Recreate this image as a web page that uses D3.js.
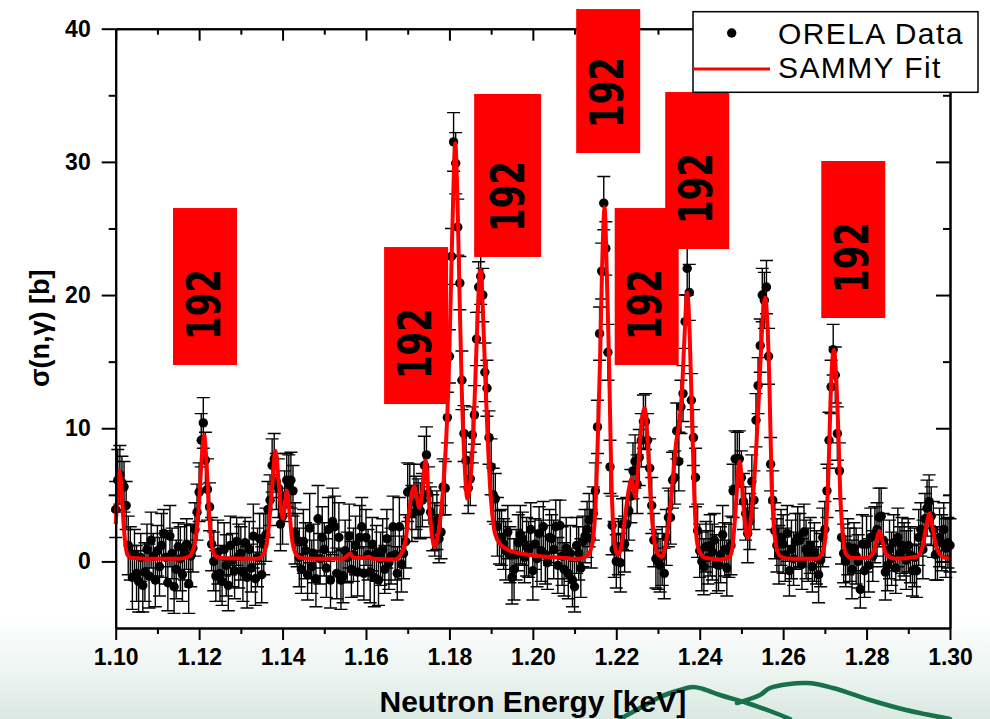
<!DOCTYPE html>
<html>
<head>
<meta charset="utf-8">
<script src="https://cdn.jsdelivr.net/npm/d3@7"></script>
<style>
  html, body { margin: 0; padding: 0; background: #fff; }
  svg { display: block; }
</style>
</head>
<body>
<svg id="chart" width="990" height="719"></svg>
<script>
// ORELA capture cross section, 1.10–1.30 keV (energy in keV, sigma in barn)
const energy = [
  1.1000,1.1005,1.1010,1.1015,1.1020,1.1025,1.1030,1.1035,1.1040,1.1045,1.1050,1.1055,1.1060,1.1065,1.1070,1.1075,1.1080,1.1085,1.1090,1.1095,
  1.1100,1.1105,1.1110,1.1115,1.1120,1.1125,1.1130,1.1135,1.1140,1.1145,1.1150,1.1155,1.1160,1.1165,1.1170,1.1175,1.1180,1.1185,1.1190,1.1195,
  1.1200,1.1205,1.1210,1.1215,1.1220,1.1225,1.1230,1.1235,1.1240,1.1245,1.1250,1.1255,1.1260,1.1265,1.1270,1.1275,1.1280,1.1285,1.1290,1.1295,
  1.1300,1.1305,1.1310,1.1315,1.1320,1.1325,1.1330,1.1335,1.1340,1.1345,1.1350,1.1355,1.1360,1.1365,1.1370,1.1375,1.1380,1.1385,1.1390,1.1395,
  1.1400,1.1405,1.1410,1.1415,1.1420,1.1425,1.1430,1.1435,1.1440,1.1445,1.1450,1.1455,1.1460,1.1465,1.1470,1.1475,1.1480,1.1485,1.1490,1.1495,
  1.1500,1.1505,1.1510,1.1515,1.1520,1.1525,1.1530,1.1535,1.1540,1.1545,1.1550,1.1555,1.1560,1.1565,1.1570,1.1575,1.1580,1.1585,1.1590,1.1595,
  1.1600,1.1605,1.1610,1.1615,1.1620,1.1625,1.1630,1.1635,1.1640,1.1645,1.1650,1.1655,1.1660,1.1665,1.1670,1.1675,1.1680,1.1685,1.1690,1.1695,
  1.1700,1.1705,1.1710,1.1715,1.1720,1.1725,1.1730,1.1735,1.1740,1.1745,1.1750,1.1755,1.1760,1.1765,1.1770,1.1775,1.1780,1.1785,1.1790,1.1795,
  1.1800,1.1805,1.1810,1.1815,1.1820,1.1825,1.1830,1.1835,1.1840,1.1845,1.1850,1.1855,1.1860,1.1865,1.1870,1.1875,1.1880,1.1885,1.1890,1.1895,
  1.1900,1.1905,1.1910,1.1915,1.1920,1.1925,1.1930,1.1935,1.1940,1.1945,1.1950,1.1955,1.1960,1.1965,1.1970,1.1975,1.1980,1.1985,1.1990,1.1995,
  1.2000,1.2005,1.2010,1.2015,1.2020,1.2025,1.2030,1.2035,1.2040,1.2045,1.2050,1.2055,1.2060,1.2065,1.2070,1.2075,1.2080,1.2085,1.2090,1.2095,
  1.2100,1.2105,1.2110,1.2115,1.2120,1.2125,1.2130,1.2135,1.2140,1.2145,1.2150,1.2155,1.2160,1.2165,1.2170,1.2175,1.2180,1.2185,1.2190,1.2195,
  1.2200,1.2205,1.2210,1.2215,1.2220,1.2225,1.2230,1.2235,1.2240,1.2245,1.2250,1.2255,1.2260,1.2265,1.2270,1.2275,1.2280,1.2285,1.2290,1.2295,
  1.2300,1.2305,1.2310,1.2315,1.2320,1.2325,1.2330,1.2335,1.2340,1.2345,1.2350,1.2355,1.2360,1.2365,1.2370,1.2375,1.2380,1.2385,1.2390,1.2395,
  1.2400,1.2405,1.2410,1.2415,1.2420,1.2425,1.2430,1.2435,1.2440,1.2445,1.2450,1.2455,1.2460,1.2465,1.2470,1.2475,1.2480,1.2485,1.2490,1.2495,
  1.2500,1.2505,1.2510,1.2515,1.2520,1.2525,1.2530,1.2535,1.2540,1.2545,1.2550,1.2555,1.2560,1.2565,1.2570,1.2575,1.2580,1.2585,1.2590,1.2595,
  1.2600,1.2605,1.2610,1.2615,1.2620,1.2625,1.2630,1.2635,1.2640,1.2645,1.2650,1.2655,1.2660,1.2665,1.2670,1.2675,1.2680,1.2685,1.2690,1.2695,
  1.2700,1.2705,1.2710,1.2715,1.2720,1.2725,1.2730,1.2735,1.2740,1.2745,1.2750,1.2755,1.2760,1.2765,1.2770,1.2775,1.2780,1.2785,1.2790,1.2795,
  1.2800,1.2805,1.2810,1.2815,1.2820,1.2825,1.2830,1.2835,1.2840,1.2845,1.2850,1.2855,1.2860,1.2865,1.2870,1.2875,1.2880,1.2885,1.2890,1.2895,
  1.2900,1.2905,1.2910,1.2915,1.2920,1.2925,1.2930,1.2935,1.2940,1.2945,1.2950,1.2955,1.2960,1.2965,1.2970,1.2975,1.2980,1.2985,1.2990,1.2995,
  1.3000
];

const sigma = [
  3.9, 6.1, 6.5, 5.9, 5.6, 4.2, 1.2, 0.6,-1.2, 0.5,-0.9,-1.5, 0.3,-1.8,-0.8, 0.9,-1.1, 1.6, 0.4,-1.4,
  0.8,-0.4, 1.2, 2.1, 0.3,-1.6, 1.9, 0.6,-1.9,-0.6, 1.1, 0.2,-1.0, 0.7, 1.3,-1.7, 0.4, 1.0, 2.4, 3.7,
  5.2, 9.1,10.4, 7.6, 5.4, 4.1, 1.3, 0.0,-1.1, 0.7,-0.9,-1.5, 0.9,-0.3,-1.8, 1.2, 0.1,-0.7, 1.5, 0.4,
  0.6,-0.8, 1.4,-1.2, 0.9,-0.5, 1.9,-1.3, 0.3, 1.7,-1.0, 1.3, 2.0, 3.9, 4.6, 7.2, 7.7, 6.0, 5.5, 2.8,
  3.4, 4.9, 6.1, 5.8, 6.1, 5.3, 2.1, 1.6, 0.3,-0.6, 1.5, 0.8,-1.0, 2.5,-0.4, 0.6,-1.3, 3.2, 0.2, 1.8,
  0.9,-0.5, 2.4,-1.4, 3.0, 2.6,-0.9, 1.8,-1.4,-1.1, 0.8, 0.3, 1.9,-0.6, 0.5, 1.2,-0.8, 1.8, 2.6,-0.9,
  1.8, 0.5,-0.8, 1.3,-1.2, 0.6,-1.4, 0.2, 0.9,-0.6, 1.7,-0.1, 0.4, 2.6, 0.5,-0.9, 2.6,-0.2, 0.6, 1.5,
  5.2, 5.3, 3.6, 5.4, 4.4, 4.0, 3.8, 4.6, 7.2, 8.0, 5.1, 3.7, 2.9, 2.4, 3.1, 1.7, 2.2, 5.6, 5.5,10.8,
 15.4,22.9,31.5,29.9,25.1,20.9,13.6, 9.6, 7.6, 5.5, 6.2, 9.5,11.0,16.7,20.6,21.4,20.0,14.2,13.0, 9.3,
  7.1, 5.0, 4.7, 2.6, 1.8, 1.8, 1.3, 0.8, 2.2, 0.5,-1.2,-0.6, 0.5, 1.4, 2.0, 1.7, 0.3, 1.1, 0.9, 2.4,
 -0.7, 1.3, 0.2, 2.1, 0.8, 2.6, 0.5,-0.1, 1.8, 1.7, 0.9, 2.6,-0.3, 2.7, 0.4,-0.6, 1.0,-0.9, 0.6,-1.4,
 -1.9, 1.2, 0.6,-0.5, 1.5, 1.9, 2.4, 3.1, 1.7, 3.6, 5.3,10.1,17.1,21.8,26.9,23.5,15.7, 7.1, 2.7, 0.9,
  0.0, 1.1,-0.1, 2.8, 1.3, 2.8, 3.8, 4.9, 6.8, 7.5, 5.8, 7.8, 9.1,10.5,10.5, 9.1, 7.0, 4.2, 1.6, 0.2,
  0.0,-0.3, 0.4,-0.9, 1.8, 3.3, 3.3, 6.1, 6.3, 9.8, 7.5,11.6,12.6,18.0,22.0,20.2,12.1, 9.3, 6.3, 2.3,
  0.8, 0.0,-0.4, 1.1, 0.3, 1.2, 0.7, 1.6,-0.2,-0.3, 0.5, 2.0, 0.9,-0.5, 0.8, 1.2, 5.3, 7.7, 7.7, 7.7,
  6.3, 4.5, 3.6, 2.1, 3.0, 6.0, 4.6,10.6,13.2,16.2,20.0,19.6,20.6,15.4, 7.3, 4.6, 2.3, 1.2, 0.5, 1.8,
  1.3, 0.5, 2.1,-0.7, 0.9, 0.2, 1.5, 1.8, 1.6,-0.2, 2.2, 0.9, 0.5, 1.2,-0.4, 0.7, 0.3,-1.0, 0.1, 1.8,
  2.4, 5.3, 9.1,13.1,15.9,14.0, 9.6, 6.8, 1.8, 0.6, 0.0, 1.1, 0.5,-0.6, 1.0, 0.4, 0.0,-2.1, 1.3,-0.7,
  1.3,-0.3, 1.8, 0.4, 2.0, 2.4, 3.3, 3.4, 1.6,-0.8,-0.3, 0.9, 0.2, 1.4,-0.5, 1.8, 0.6, 1.2, 0.9, 0.1,
  1.2, 0.5,-0.7, 0.3,-0.7, 1.8, 2.4, 0.9, 3.2, 4.0, 4.5, 3.4, 2.4, 0.5, 0.6, 1.8, 1.4, 2.4, 1.0, 1.4,
  1.2
];

const sigmaErr = [
  2.1,2.3,2.2,2.0,1.9,1.8,2.2,2.0,2.4,1.9,2.1,2.3,1.8,2.0,2.2,1.9,2.4,2.1,1.7,2.0,
  1.9,2.2,2.4,1.8,2.0,2.1,2.3,1.9,2.0,2.2,1.8,2.4,2.0,2.1,1.9,2.2,2.3,1.8,2.0,2.1,
  2.2,2.0,1.9,2.1,2.3,1.8,2.0,2.2,1.9,2.4,2.1,1.8,2.0,2.3,1.9,2.2,2.0,2.1,1.8,2.4,
  2.0,2.2,1.9,2.3,2.1,1.8,2.4,2.0,2.2,1.9,2.1,2.3,2.0,2.1,1.9,2.0,1.9,2.1,2.2,2.0,
  2.1,1.9,2.0,2.2,2.1,1.9,2.3,2.0,2.2,1.8,2.4,2.1,1.9,2.6,2.0,2.2,2.1,2.5,1.9,2.3,
  2.0,2.2,2.4,2.1,2.5,2.3,1.9,2.6,2.2,2.0,2.3,1.9,2.4,2.1,2.0,2.2,1.8,2.4,2.2,2.0,
  2.1,1.9,2.3,2.0,2.2,2.1,1.9,2.0,2.3,1.8,2.2,2.0,2.1,2.3,1.9,2.0,2.2,2.1,1.9,2.0,
  2.2,2.0,2.1,1.9,2.0,2.2,2.1,2.0,2.2,2.1,2.0,1.9,2.1,2.0,2.2,1.8,2.0,2.1,2.0,1.9,
  2.0,2.1,2.2,2.3,2.1,2.0,2.2,2.1,2.0,1.9,2.0,2.1,2.2,2.0,1.9,2.1,2.0,2.2,2.1,2.0,
  2.1,2.0,1.9,2.2,2.0,2.1,1.9,2.2,2.0,2.1,2.0,2.3,1.9,2.1,2.2,2.0,1.9,2.2,2.1,2.0,
  2.2,1.9,2.1,2.0,2.3,1.9,2.2,2.0,2.1,1.8,2.2,2.0,2.1,1.9,2.2,2.0,2.3,1.9,2.1,2.0,
  1.9,2.1,2.0,2.2,1.9,2.0,2.1,2.0,2.2,2.0,2.1,2.0,2.0,2.1,2.0,2.0,2.1,2.0,2.2,2.1,
  2.0,2.1,2.2,1.9,2.1,2.0,2.2,2.0,2.1,2.0,2.2,2.1,2.0,2.0,2.1,2.0,2.2,2.1,2.0,2.2,
  2.1,2.0,2.2,1.9,2.1,2.2,2.0,2.1,2.0,2.1,2.2,2.0,2.1,2.0,2.0,2.1,2.0,2.1,2.2,2.0,
  2.0,2.2,2.1,1.9,2.0,2.3,2.1,2.0,2.2,1.9,2.1,2.2,2.0,2.1,2.0,2.2,2.0,2.1,2.0,2.1,
  2.0,2.1,2.0,2.2,2.1,2.0,2.2,2.0,2.1,2.0,2.0,2.1,2.0,2.1,2.0,2.2,2.1,2.0,2.2,2.1,
  2.2,2.0,2.1,1.9,2.2,2.0,2.1,2.3,2.0,1.9,2.1,2.2,2.0,2.1,1.9,2.2,2.0,2.1,2.0,2.2,
  2.1,2.0,2.1,2.0,1.9,2.1,2.0,2.1,2.0,2.2,1.9,2.1,2.0,2.2,1.9,2.1,2.0,1.4,2.2,2.0,
  2.1,2.0,2.2,1.9,2.1,2.0,2.2,2.1,2.0,2.1,1.9,2.2,2.0,2.1,1.9,2.2,2.0,2.1,2.0,2.2,
  2.0,2.1,1.9,2.2,2.0,2.1,2.0,2.2,1.9,2.1,2.0,2.2,2.1,1.9,2.0,2.2,2.1,2.0,2.2,1.9,
  2.0
];

// SAMMY R-matrix fit, sampled along the energy axis
const fitEnergy = [
  1.1000,1.1004,1.1009,1.1014,1.1019,1.1024,1.1030,1.1040,1.1080,1.1150,1.1175,1.1185,1.1193,1.1200,1.1206,1.1212,1.1218,1.1224,1.1230,1.1238,
  1.1250,1.1340,1.1355,1.1365,1.1373,1.1383,1.1391,1.1397,1.1401,1.1406,1.1410,1.1416,1.1423,1.1432,1.1445,1.1470,1.1545,1.1556,1.1562,1.1570,
  1.1585,1.1600,1.1607,1.1616,1.1670,1.1685,1.1695,1.1702,1.1709,1.1716,1.1722,1.1728,1.1735,1.1743,1.1749,1.1754,1.1759,1.1764,1.1770,1.1778,
  1.1785,1.1792,1.1798,1.1804,1.1810,1.1814,1.1819,1.1825,1.1830,1.1836,1.1843,1.1850,1.1856,1.1862,1.1868,1.1874,1.1880,1.1886,1.1892,1.1897,
  1.1902,1.1910,1.1925,1.1950,1.2000,1.2060,1.2110,1.2130,1.2141,1.2150,1.2156,1.2161,1.2166,1.2172,1.2177,1.2183,1.2188,1.2194,1.2200,1.2205,
  1.2212,1.2221,1.2230,1.2237,1.2242,1.2246,1.2252,1.2260,1.2268,1.2276,1.2283,1.2293,1.2302,1.2310,1.2318,1.2327,1.2336,1.2343,1.2350,1.2357,
  1.2363,1.2370,1.2376,1.2381,1.2387,1.2393,1.2400,1.2415,1.2450,1.2470,1.2477,1.2485,1.2490,1.2495,1.2500,1.2506,1.2511,1.2516,1.2522,1.2530,
  1.2538,1.2545,1.2551,1.2557,1.2562,1.2567,1.2572,1.2578,1.2586,1.2595,1.2620,1.2680,1.2695,1.2703,1.2709,1.2714,1.2719,1.2722,1.2726,1.2732,
  1.2737,1.2743,1.2750,1.2765,1.2800,1.2815,1.2824,1.2831,1.2838,1.2848,1.2870,1.2920,1.2934,1.2944,1.2951,1.2958,1.2968,1.2985,1.3000
];
const fitSigma = [
  2.8, 5.0, 6.8, 5.5, 2.8, 1.1, 0.4, 0.25,0.2, 0.2, 0.35,0.8, 2.0, 4.5, 7.6, 9.5, 7.2, 3.6, 1.3, 0.45,
  0.25,0.2, 0.6, 2.0, 4.8, 8.3, 5.8, 3.7, 3.2, 4.4, 5.3, 3.9, 1.6, 0.55,0.25,0.2, 0.2, 0.45,0.6, 0.3,
  0.25,0.3, 0.35,0.2, 0.15,0.6, 1.6, 3.4, 5.0, 5.6, 4.8, 4.0, 5.3, 7.6, 5.4, 3.3, 1.8, 1.1, 1.6, 3.2,
  5.5, 9.0,13.6,21.0,28.5,31.4,27.5,19.0,12.5, 7.6, 4.7, 6.0, 8.8,13.5,18.8,21.9,19.0,13.8, 9.0, 5.8,
  3.8, 2.0, 1.2, 0.75,0.45,0.3, 0.2, 0.4, 1.1, 4.0, 9.5,15.0,22.0,26.6,22.0,14.5, 6.5, 2.0, 0.7, 0.5,
  1.1, 3.3, 5.4, 6.2, 5.3, 4.8, 6.8,10.2,11.5, 8.6, 4.4, 1.2, 0.45,0.35,1.2, 3.3, 6.3, 8.8,10.2,12.5,
 16.5,20.2,17.0,11.5, 5.0, 1.6, 0.7, 0.25,0.15,0.3, 0.8, 3.4, 5.8, 7.5, 6.5, 3.8, 2.2, 1.8, 3.0, 5.8,
 10.0,14.5,18.3,19.8,18.0,13.5, 6.5, 2.5, 0.8, 0.35,0.2, 0.2, 0.7, 2.6, 7.0,12.5,15.5,15.9,14.5,10.0,
  5.0, 2.0, 0.6, 0.25,0.25,0.6, 1.6, 2.3, 1.5, 0.45,0.2, 0.35,1.1, 2.8, 3.6, 2.6, 1.0, 0.3, 0.2
];

// Axis ticks
const xMajorTicks = [1.10, 1.12, 1.14, 1.16, 1.18, 1.20, 1.22, 1.24, 1.26, 1.28, 1.30];
const xMinorTicks = [1.11, 1.13, 1.15, 1.17, 1.19, 1.21, 1.23, 1.25, 1.27, 1.29];
const yMajorTicks = [0, 10, 20, 30, 40];
const yMinorTicks = [5, 15, 25, 35];

// Resonance tags: text and anchor (energy, sigma) of each tag box centre
const tagText = ["192", "192", "192", "192", "192", "192", "192"];
const tagEnergy = [1.12141, 1.17201, 1.19396, 1.21806, 1.22729, 1.23940, 1.27681];
const tagSigma  = [20.64, 17.71, 28.98, 36.07, 20.64, 29.35, 24.17];

const legendLabels = ["ORELA Data", "SAMMY Fit"];

// ---------------------------------------------------------------------------
const FONT = "'Liberation Sans', Arial, Helvetica, sans-serif";
const svg = d3.select("#chart");
const W = 990, H = 719;
const plot = { left: 115.7, right: 950, top: 28.7, bottom: 628 };

const x = d3.scaleLinear().domain([1.10, 1.30]).range([plot.left, plot.right]);
const y = d3.scaleLinear().domain([-5, 40]).range([plot.bottom, plot.top]);

// page background with the pale green wash at the bottom
const defs = svg.append("defs");
const bg = defs.append("linearGradient").attr("id", "pageWash")
  .attr("x1", 0).attr("y1", 0).attr("x2", 0).attr("y2", 1);
bg.append("stop").attr("offset", 0).attr("stop-color", "#ffffff");
bg.append("stop").attr("offset", 0.855).attr("stop-color", "#ffffff");
bg.append("stop").attr("offset", 0.93).attr("stop-color", "#eef5f2");
bg.append("stop").attr("offset", 1).attr("stop-color", "#dae8e2");
svg.append("rect").attr("width", W).attr("height", H).attr("fill", "url(#pageWash)");

// hand-drawn green flourish of the page template
const flourish = [
  [[620,719],[640,708],[660,697],[680,690],[693,687],[703,689],[720,695],[747,703],[770,711],[790,719]],
  [[737,703],[760,695],[770,688],[807,683],[833,688],[870,700],[906,710],[950,719]]
];
svg.append("g").selectAll("path").data(flourish).join("path")
  .attr("d", d3.line().curve(d3.curveCatmullRom))
  .attr("fill", "none").attr("stroke", "#17714c").attr("stroke-width", 4.5)
  .attr("stroke-linecap", "round");

// plot area (white)
svg.append("rect").attr("x", plot.left).attr("y", plot.top)
  .attr("width", plot.right - plot.left).attr("height", plot.bottom - plot.top)
  .attr("fill", "#fff");

// data with error bars
const points = energy.map((e, i) => ({ e, s: sigma[i], err: sigmaErr[i] }));
const eb = svg.append("g").attr("stroke", "#000").attr("stroke-width", 1.4).attr("fill", "none");
const capHalf = 6.5;
eb.selectAll("path").data(points).join("path")
  .attr("d", d => {
    const cx = x(d.e), y1 = y(d.s + d.err), y0 = y(d.s - d.err);
    return `M${cx},${y1}V${y0}M${cx - capHalf},${y1}H${cx + capHalf}M${cx - capHalf},${y0}H${cx + capHalf}`;
  });
svg.append("g").selectAll("circle").data(points).join("circle")
  .attr("cx", d => x(d.e)).attr("cy", d => y(d.s)).attr("r", 4.7).attr("fill", "#000");

// fit curve
svg.append("path")
  .datum(fitEnergy.map((e, i) => [e, fitSigma[i]]))
  .attr("d", d3.line().x(d => x(d[0])).y(d => y(d[1])).curve(d3.curveMonotoneX))
  .attr("fill", "none").attr("stroke", "#ff0000").attr("stroke-width", 4)
  .attr("stroke-linejoin", "round");

// axes
function styleAxis(g) {
  g.attr("font-family", FONT).attr("font-size", 23).attr("font-weight", "bold");
  g.selectAll("path.domain").attr("stroke", "#000").attr("stroke-width", 2);
  g.selectAll(".tick line").attr("stroke", "#000").attr("stroke-width", 2);
  g.selectAll(".tick text").attr("fill", "#000");
}
const axes = svg.append("g");
axes.append("g").attr("transform", `translate(0,${plot.bottom})`)
  .call(d3.axisBottom(x).tickValues(xMinorTicks).tickSize(6).tickSizeOuter(0).tickFormat(""))
  .call(styleAxis);
axes.append("g").attr("transform", `translate(0,${plot.bottom})`)
  .call(d3.axisBottom(x).tickValues(xMajorTicks).tickSize(12).tickSizeOuter(0).tickPadding(9)
    .tickFormat(d3.format(".2f")))
  .call(styleAxis);
axes.append("g").attr("transform", `translate(0,${plot.top})`)
  .call(d3.axisBottom(x).tickValues(xMinorTicks).tickSize(6).tickSizeOuter(0).tickFormat(""))
  .call(styleAxis);
axes.append("g").attr("transform", `translate(0,${plot.top})`)
  .call(d3.axisBottom(x).tickValues(xMajorTicks).tickSize(12).tickSizeOuter(0).tickFormat(""))
  .call(styleAxis);
axes.append("g").attr("transform", `translate(${plot.left},0)`)
  .call(d3.axisLeft(y).tickValues(yMinorTicks).tickSize(7).tickSizeOuter(0).tickFormat(""))
  .call(styleAxis);
axes.append("g").attr("transform", `translate(${plot.left},0)`)
  .call(d3.axisLeft(y).tickValues(yMajorTicks).tickSize(14).tickSizeOuter(0).tickPadding(11))
  .call(styleAxis);
axes.append("g").attr("transform", `translate(${plot.right},0)`)
  .call(d3.axisLeft(y).tickValues(yMinorTicks).tickSize(7).tickSizeOuter(0).tickFormat(""))
  .call(styleAxis);
axes.append("g").attr("transform", `translate(${plot.right},0)`)
  .call(d3.axisLeft(y).tickValues(yMajorTicks).tickSize(14).tickSizeOuter(0).tickFormat(""))
  .call(styleAxis);

// axis titles
svg.append("text")
  .attr("x", (plot.left + plot.right) / 2).attr("y", 712)
  .attr("text-anchor", "middle").attr("font-family", FONT)
  .attr("font-size", 30).attr("font-weight", "bold").attr("fill", "#000")
  .text("Neutron Energy [keV]");
svg.append("text")
  .attr("transform", `translate(49,${(plot.top + plot.bottom) / 2}) rotate(-90)`)
  .attr("text-anchor", "middle").attr("font-family", FONT)
  .attr("font-size", 27).attr("font-weight", "bold").attr("fill", "#000")
  .text("σ(n,γ) [b]");

// resonance tags (box sizes per tag)
const tagW = [64, 64, 67, 64, 64, 64, 64];
const tagH = [157, 157, 163, 144, 157, 157, 157];
const tags = svg.append("g").selectAll("g").data(tagText).join("g")
  .attr("transform", (t, i) => `translate(${x(tagEnergy[i])},${y(tagSigma[i])})`);
tags.append("rect")
  .attr("x", (t, i) => -tagW[i] / 2).attr("y", (t, i) => -tagH[i] / 2)
  .attr("width", (t, i) => tagW[i]).attr("height", (t, i) => tagH[i])
  .attr("fill", "#ff0000");
tags.append("text")
  .attr("transform", (t, i) => `translate(${tagW[i] / 2 - 17.5},${tagH[i] / 2 - 25}) rotate(-90)`)
  .attr("font-family", "'DejaVu Sans', Verdana, sans-serif").attr("font-weight", "bold")
  .attr("font-size", 47).attr("fill", "#000")
  .attr("textLength", 71).attr("lengthAdjust", "spacingAndGlyphs")
  .text(t => t);

// legend
const lg = svg.append("g");
lg.append("rect").attr("x", 693).attr("y", 11.7).attr("width", 285).attr("height", 80.6)
  .attr("fill", "#fff").attr("stroke", "#000").attr("stroke-width", 1.5);
lg.append("circle").attr("cx", 731.7).attr("cy", 33).attr("r", 4.7).attr("fill", "#000");
lg.append("line").attr("x1", 693).attr("x2", 770).attr("y1", 69).attr("y2", 69)
  .attr("stroke", "#ff0000").attr("stroke-width", 3);
lg.selectAll("text").data(legendLabels).join("text")
  .attr("x", 778).attr("y", (d, i) => i === 0 ? 44.3 : 78.3)
  .attr("font-family", FONT).attr("font-size", 30).attr("letter-spacing", 1.4)
  .attr("fill", "#000").text(d => d);
</script>
</body>
</html>
